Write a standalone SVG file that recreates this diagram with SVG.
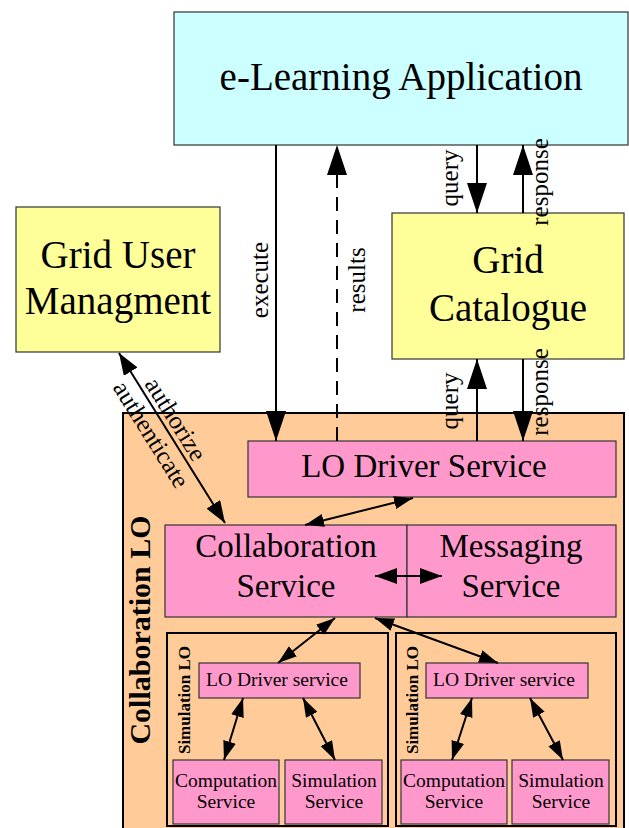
<svg xmlns="http://www.w3.org/2000/svg" width="629" height="828" viewBox="0 0 629 828">
<style>
.box{stroke:#333;stroke-width:1.2}
.cyan{fill:#ccffff}
.yel{fill:#ffff99}
.pink{fill:#ff99cc}
.org{fill:#ffcc99;stroke:#000;stroke-width:2}
.cont{fill:none;stroke:#000;stroke-width:2}
text{font-family:"Liberation Serif","Times New Roman",serif;fill:#000}
.big{font-size:39px;text-anchor:middle}
.mid{font-size:33px;text-anchor:middle}
.sm{font-size:19.5px;text-anchor:middle}
.lbl{font-size:25px;text-anchor:middle}
.bold{font-weight:bold;text-anchor:middle}
.c{stroke:#000;stroke-width:2;fill:none}
</style>
<defs>
<marker id="ab" markerUnits="userSpaceOnUse" markerWidth="30" markerHeight="20" refX="30" refY="10" orient="auto-start-reverse"><path d="M0,0 L30,10 L0,20 Z" fill="#000"/></marker>
<marker id="am" markerUnits="userSpaceOnUse" markerWidth="22" markerHeight="16" refX="22" refY="8" orient="auto-start-reverse"><path d="M0,0 L22,8 L0,16 Z" fill="#000"/></marker>
<marker id="as" markerUnits="userSpaceOnUse" markerWidth="19" markerHeight="13" refX="19" refY="6.5" orient="auto-start-reverse"><path d="M0,0 L19,6.5 L0,13 Z" fill="#000"/></marker>
</defs>
<rect width="629" height="828" fill="#fff"/>

<g id="elearning">
<rect class="box cyan" x="174" y="12" width="454" height="133"/>
<text class="big" x="401" y="90">e-Learning Application</text>
</g>

<g id="grid-user">
<rect class="box yel" x="16" y="207" width="204" height="145"/>
<text class="big" x="118" y="268">Grid User</text>
<text class="big" x="118" y="314">Managment</text>
</g>

<g id="grid-catalogue">
<rect class="box yel" x="392" y="213" width="232" height="146"/>
<text class="big" x="508" y="273">Grid</text>
<text class="big" x="508" y="321">Catalogue</text>
</g>

<g id="collaboration-lo">
<rect class="org" x="123" y="413" width="501" height="430"/>
<text class="bold" font-size="30" transform="translate(150,630) rotate(-90)">Collaboration LO</text>
</g>

<g id="lo-driver">
<rect class="box pink" x="248" y="441" width="368" height="56"/>
<text class="mid" x="424" y="477">LO Driver Service</text>
</g>

<g id="collab-service">
<rect class="box pink" x="165" y="525" width="242" height="92"/>
<text class="mid" x="286" y="557">Collaboration</text>
<text class="mid" x="286" y="597">Service</text>
</g>

<g id="messaging-service">
<rect class="box pink" x="407" y="525" width="209" height="92"/>
<text class="mid" x="511" y="557">Messaging</text>
<text class="mid" x="511" y="597">Service</text>
</g>

<g id="simulation-lo-1">
<rect class="cont" x="167" y="633" width="221" height="193"/>
<text class="bold" font-size="17" transform="translate(190,700) rotate(-90)">Simulation LO</text>
</g>

<g id="simulation-lo-2">
<rect class="cont" x="396" y="633" width="220" height="193"/>
<text class="bold" font-size="17" transform="translate(418,700) rotate(-90)">Simulation LO</text>
</g>

<g id="lo-driver-1">
<rect class="box pink" x="199" y="663" width="161" height="35"/>
<text class="sm" x="277" y="686">LO Driver service</text>
</g>

<g id="lo-driver-2">
<rect class="box pink" x="426" y="663" width="162" height="35"/>
<text class="sm" x="504" y="686">LO Driver service</text>
</g>

<g id="computation-1">
<rect class="box pink" x="173" y="760" width="106" height="64"/>
<text class="sm" x="226" y="787">Computation</text>
<text class="sm" x="226" y="808">Service</text>
</g>

<g id="simulation-1">
<rect class="box pink" x="285" y="760" width="97" height="64"/>
<text class="sm" x="334" y="787">Simulation</text>
<text class="sm" x="334" y="808">Service</text>
</g>

<g id="computation-2">
<rect class="box pink" x="401" y="760" width="106" height="64"/>
<text class="sm" x="454" y="787">Computation</text>
<text class="sm" x="454" y="808">Service</text>
</g>

<g id="simulation-2">
<rect class="box pink" x="512" y="760" width="97" height="64"/>
<text class="sm" x="561" y="787">Simulation</text>
<text class="sm" x="561" y="808">Service</text>
</g>

<g id="connectors">
<line class="c" x1="276" y1="145" x2="276" y2="441" marker-end="url(#ab)"/>
<line class="c" x1="337" y1="441" x2="337" y2="145" stroke-dasharray="14,9" marker-end="url(#ab)"/>
<line class="c" x1="477" y1="145" x2="477" y2="213" marker-end="url(#ab)"/>
<line class="c" x1="523" y1="213" x2="523" y2="145" marker-end="url(#ab)"/>
<line class="c" x1="477" y1="441" x2="477" y2="359" marker-end="url(#ab)"/>
<line class="c" x1="523" y1="359" x2="523" y2="441" marker-end="url(#ab)"/>
<line class="c" x1="119" y1="353" x2="225" y2="523" marker-start="url(#am)" marker-end="url(#am)"/>
<line class="c" x1="413" y1="498" x2="305" y2="525" marker-start="url(#as)" marker-end="url(#as)"/>
<line class="c" x1="375" y1="576" x2="442" y2="576" marker-start="url(#am)" marker-end="url(#am)"/>
<line class="c" x1="335" y1="618" x2="278" y2="663" marker-start="url(#as)" marker-end="url(#as)"/>
<line class="c" x1="375" y1="618" x2="498" y2="663" marker-start="url(#as)" marker-end="url(#as)"/>
<line class="c" x1="243" y1="698" x2="224" y2="760" marker-start="url(#as)" marker-end="url(#as)"/>
<line class="c" x1="303" y1="698" x2="335" y2="760" marker-start="url(#as)" marker-end="url(#as)"/>
<line class="c" x1="472" y1="698" x2="452" y2="760" marker-start="url(#as)" marker-end="url(#as)"/>
<line class="c" x1="530" y1="698" x2="563" y2="760" marker-start="url(#as)" marker-end="url(#as)"/>
<text class="lbl" transform="translate(268,280) rotate(-90)">execute</text>
<text class="lbl" transform="translate(365,280) rotate(-90)">results</text>
<text class="lbl" transform="translate(458,178) rotate(-90)">query</text>
<text class="lbl" transform="translate(548,182) rotate(-90)">response</text>
<text class="lbl" transform="translate(458,401) rotate(-90)">query</text>
<text class="lbl" transform="translate(548,392) rotate(-90)">response</text>
<text class="lbl" transform="translate(164.5,426) rotate(58)" y="-5">authorize</text>
<text class="lbl" transform="translate(164.5,426) rotate(58)" y="24">authenticate</text>
</g>
</svg>
